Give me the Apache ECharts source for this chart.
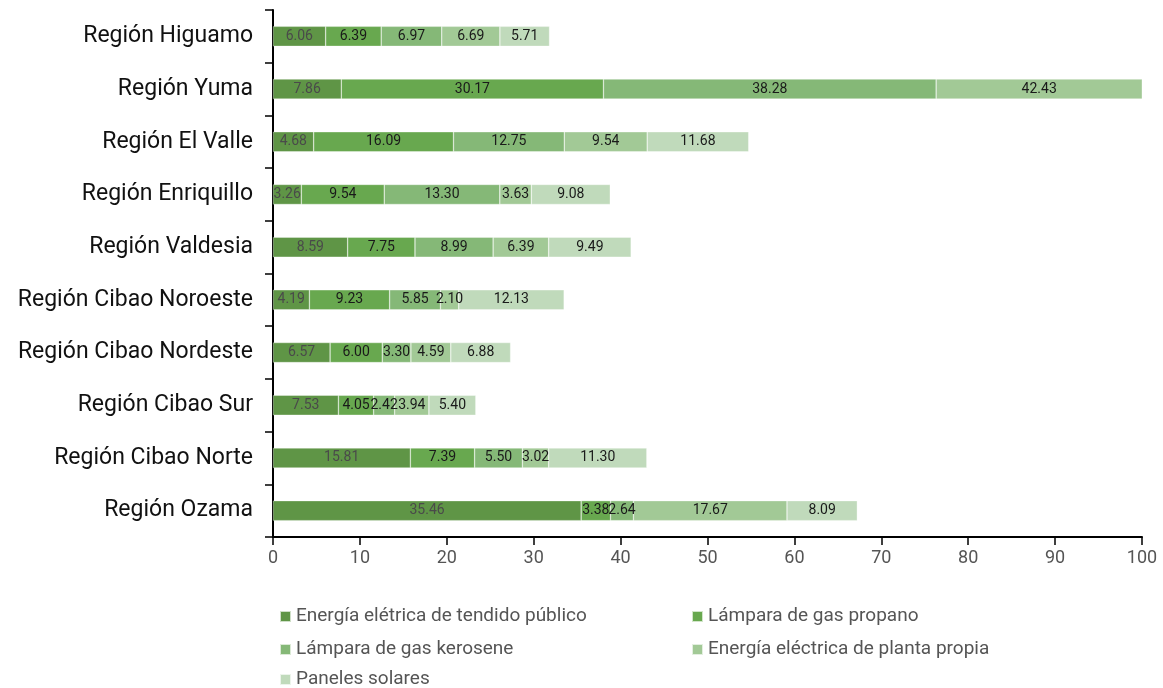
<!DOCTYPE html>
<html><head><meta charset="utf-8">
<script src="https://cdn.jsdelivr.net/npm/echarts@6/dist/echarts.min.js"></script>
<style>html,body{margin:0;padding:0;background:#fff}#c{width:1163px;height:688px}</style>
</head><body><div id="c"></div>
<script>
const categories = ['Región Ozama','Región Cibao Norte','Región Cibao Sur','Región Cibao Nordeste','Región Cibao Noroeste','Región Valdesia','Región Enriquillo','Región El Valle','Región Yuma','Región Higuamo'];
const seriesNames = ['Energía elétrica de tendido público','Lámpara de gas propano','Lámpara de gas kerosene','Energía eléctrica de planta propia','Paneles solares'];
const tendido  = [35.46,15.81,7.53,6.57,4.19,8.59,3.26,4.68,7.86,6.06];
const propano  = [3.38,7.39,4.05,6.00,9.23,7.75,9.54,16.09,30.17,6.39];
const kerosene = [2.64,5.50,2.42,3.30,5.85,8.99,13.30,12.75,38.28,6.97];
const planta   = [17.67,3.02,3.94,4.59,2.10,6.39,3.63,9.54,42.43,6.69];
const solares  = [8.09,11.30,5.40,6.88,12.13,9.49,9.08,11.68,null,5.71];
const xTicks = [0,10,20,30,40,50,60,70,80,90,100];

const values = [tendido,propano,kerosene,planta,solares];
const colors = ['#5f9546','#68a84f','#85b877','#a2c996','#c0dabb'];
const labelColors = ['#4a4a4a','#1a1a1a','#1a1a1a','#1a1a1a','#1a1a1a'];
const font = 'Roboto, "Noto Sans", sans-serif';

const chart = echarts.init(document.getElementById('c'));
const legendPos = [[274,602],[686,602],[274,635],[686,635],[274,665]];
chart.setOption({
  animation:false,
  color: colors,
  grid:{left:273,right:21,top:10,bottom:151,containLabel:false},
  xAxis:{type:'value',min:0,max:100,interval:10,
    axisLine:{show:true,lineStyle:{color:'#000',width:2}},
    axisTick:{show:true,length:8,lineStyle:{color:'#000',width:1.5}},
    splitLine:{show:false},
    axisLabel:{color:'#555',fontSize:18,fontFamily:font,margin:12,
      formatter:v=>xTicks.includes(v)?String(v):''}},
  yAxis:{type:'category',data:categories,
    axisLine:{show:true,lineStyle:{color:'#000',width:2}},
    axisTick:{show:true,length:8,lineStyle:{color:'#000',width:1.5}},
    axisLabel:{color:'#111',fontSize:23,fontFamily:font,margin:20,padding:[3,0,0,0]}},
  legend: seriesNames.map((n,i)=>({data:[n],left:legendPos[i][0],top:legendPos[i][1],
    icon:'rect',itemWidth:11,itemHeight:11,itemGap:5,
    textStyle:{color:'#555',fontSize:19,fontFamily:font}})),
  series: seriesNames.map((n,i)=>({
    name:n,type:'bar',stack:'t',barWidth:20,data:values[i],
    itemStyle:{color:colors[i],borderColor:'rgba(255,255,255,0.7)',borderWidth:0.5},
    label:{show:true,position:'inside',color:labelColors[i],fontSize:14,fontFamily:font,
      formatter:p=>p.value==null?'':p.value.toFixed(2)}
  }))
});
</script></body></html>
